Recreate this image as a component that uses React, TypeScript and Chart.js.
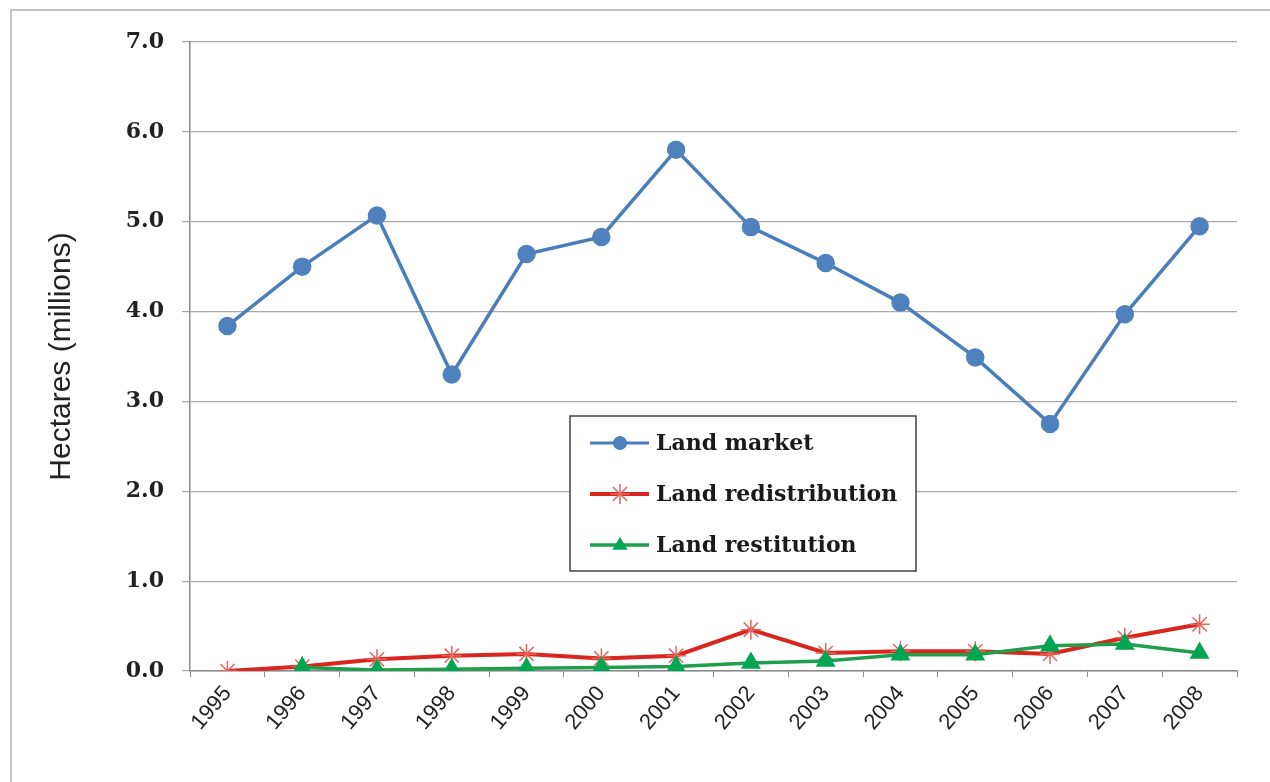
import React, { useEffect, useRef } from "react";
import { Chart, registerables } from "chart.js";

Chart.register(...registerables);

const years = ["1995", "1996", "1997", "1998", "1999", "2000", "2001", "2002", "2003", "2004", "2005", "2006", "2007", "2008"];
const landMarket = [3.84, 4.5, 5.07, 3.3, 4.64, 4.83, 5.8, 4.94, 4.54, 4.1, 3.49, 2.75, 3.97, 4.95];
const landRedistribution = [0.0, 0.05, 0.13, 0.17, 0.19, 0.14, 0.17, 0.46, 0.2, 0.22, 0.22, 0.19, 0.37, 0.52];
const landRestitution = [null, 0.04, 0.01, 0.02, 0.03, 0.04, 0.05, 0.09, 0.11, 0.18, 0.18, 0.28, 0.3, 0.2];
const seriesNames = ["Land market", "Land redistribution", "Land restitution"];
const yTickValues = [0, 1, 2, 3, 4, 5, 6, 7];

const BLUE_LINE = "#4a7ebb";
const BLUE_PT = "#4f81bd";
const RED_LINE = "#d9261f";
const RED_PT = "#e5645e";
const GREEN_LINE = "#1f9e4c";
const GREEN_PT = "#00a651";

function drawMarker(ctx: CanvasRenderingContext2D, kind: string, x: number, y: number) {
  ctx.save();
  if (kind === "circle") {
    ctx.fillStyle = BLUE_PT;
    ctx.beginPath();
    ctx.arc(x, y, 7, 0, Math.PI * 2);
    ctx.fill();
  } else if (kind === "star") {
    ctx.strokeStyle = RED_PT;
    ctx.lineWidth = 1.5;
    const r = 10;
    ctx.beginPath();
    for (let i = 0; i < 4; i++) {
      const a = (i * Math.PI) / 4;
      ctx.moveTo(x + Math.cos(a) * r, y + Math.sin(a) * r);
      ctx.lineTo(x - Math.cos(a) * r, y - Math.sin(a) * r);
    }
    ctx.stroke();
  } else {
    ctx.fillStyle = GREEN_PT;
    const r = 8;
    ctx.beginPath();
    ctx.moveTo(x, y - r);
    ctx.lineTo(x + r * 0.95, y + r * 0.6);
    ctx.lineTo(x - r * 0.95, y + r * 0.6);
    ctx.closePath();
    ctx.fill();
  }
  ctx.restore();
}

const framePlugin = {
  id: "frame",
  beforeDraw(chart: any) {
    const ctx = chart.ctx as CanvasRenderingContext2D;
    ctx.save();
    ctx.fillStyle = "#ffffff";
    ctx.fillRect(0, 0, chart.width, chart.height);
    ctx.strokeStyle = "#c4c4c4";
    ctx.lineWidth = 2;
    ctx.strokeRect(11, 10, chart.width + 20, chart.height + 20);
    ctx.restore();
  },
};

const legendPlugin = {
  id: "innerLegend",
  afterDraw(chart: any) {
    const ctx = chart.ctx as CanvasRenderingContext2D;
    const a = chart.chartArea;
    const bx = a.left + 380;
    const by = a.top + 374;
    const bw = 346;
    const bh = 155;
    ctx.save();
    ctx.fillStyle = "#ffffff";
    ctx.fillRect(bx, by, bw, bh);
    ctx.strokeStyle = "#404040";
    ctx.lineWidth = 1.5;
    ctx.strokeRect(bx, by, bw, bh);
    const lineCols = [BLUE_LINE, RED_LINE, GREEN_LINE];
    const kinds = ["circle", "star", "triangle"];
    const widths = [3, 4, 3.5];
    for (let i = 0; i < 3; i++) {
      const cy = by + 27 + i * 51;
      ctx.strokeStyle = lineCols[i];
      ctx.lineWidth = widths[i];
      ctx.beginPath();
      ctx.moveTo(bx + 20, cy);
      ctx.lineTo(bx + 79, cy);
      ctx.stroke();
      drawMarker(ctx, kinds[i], bx + 50, cy);
      ctx.fillStyle = "#1a1a1a";
      ctx.font = "bold 22px 'DejaVu Serif'";
      ctx.textAlign = "left";
      ctx.textBaseline = "middle";
      ctx.fillText(seriesNames[i], bx + 86, cy + 1);
    }
    ctx.restore();
  },
};

export default function App() {
  const ref = useRef<HTMLCanvasElement | null>(null);

  useEffect(() => {
    if (!ref.current) return;
    const chart = new Chart(ref.current, {
      type: "line",
      data: {
        labels: years,
        datasets: [
          {
            label: seriesNames[0],
            data: landMarket,
            borderColor: BLUE_LINE,
            borderWidth: 3.5,
            pointStyle: "circle",
            pointRadius: 7.5,
            pointBackgroundColor: BLUE_PT,
            pointBorderColor: BLUE_PT,
            tension: 0,
            order: 2,
          },
          {
            label: seriesNames[1],
            data: landRedistribution,
            borderColor: RED_LINE,
            borderWidth: 4,
            pointStyle: "star",
            pointRadius: 10,
            pointBorderWidth: 1.5,
            pointBackgroundColor: RED_PT,
            pointBorderColor: RED_PT,
            tension: 0,
            order: 1,
          },
          {
            label: seriesNames[2],
            data: landRestitution,
            borderColor: GREEN_LINE,
            borderWidth: 3.5,
            pointStyle: "triangle",
            pointRadius: 8,
            pointBackgroundColor: GREEN_PT,
            pointBorderColor: GREEN_PT,
            tension: 0,
            order: 0,
          },
        ],
      },
      options: {
        animation: false,
        responsive: false,
        layout: { padding: { top: 42, right: 33, bottom: 0, left: 0 } },
        plugins: {
          legend: { display: false },
          tooltip: { enabled: false },
        },
        scales: {
          x: {
            type: "category",
            offset: true,
            grid: {
              display: true,
              drawOnChartArea: false,
              drawTicks: true,
              tickLength: 6,
              offset: true,
              color: "#8a8a8a",
            },
            border: { display: true, color: "#8a8a8a", width: 1.5 },
            ticks: {
              maxRotation: 50,
              minRotation: 50,
              autoSkip: false,
              padding: 4,
              color: "#222222",
              font: { family: "'Liberation Sans'", size: 22 },
            },
            afterFit(scale: any) {
              scale.height = 111;
            },
          },
          y: {
            min: 0,
            max: 7,
            afterBuildTicks(scale: any) {
              scale.ticks = yTickValues.map((v) => ({ value: v }));
            },
            grid: {
              color: "#a8a8a8",
              lineWidth: 1.2,
              drawTicks: true,
              tickLength: 8,
            },
            border: { display: true, color: "#8a8a8a", width: 1.5 },
            ticks: {
              padding: 18,
              color: "#222222",
              font: { family: "'DejaVu Serif'", size: 22, weight: "bold" },
              callback: (v: any) => Number(v).toFixed(1),
            },
            title: {
              display: true,
              text: "Hectares (millions)",
              color: "#222222",
              font: { family: "'Liberation Sans'", size: 30 },
              padding: { top: 44, bottom: 0 },
            },
            afterFit(scale: any) {
              scale.width = 190;
            },
          },
        },
      },
      plugins: [framePlugin, legendPlugin],
    });
    return () => chart.destroy();
  }, []);

  return (
    <div style={{ position: "fixed", left: 0, top: 0, width: 1270, height: 782, background: "#fff" }}>
      <canvas ref={ref} width={1270} height={782} style={{ width: 1270, height: 782, display: "block" }} />
    </div>
  );
}
